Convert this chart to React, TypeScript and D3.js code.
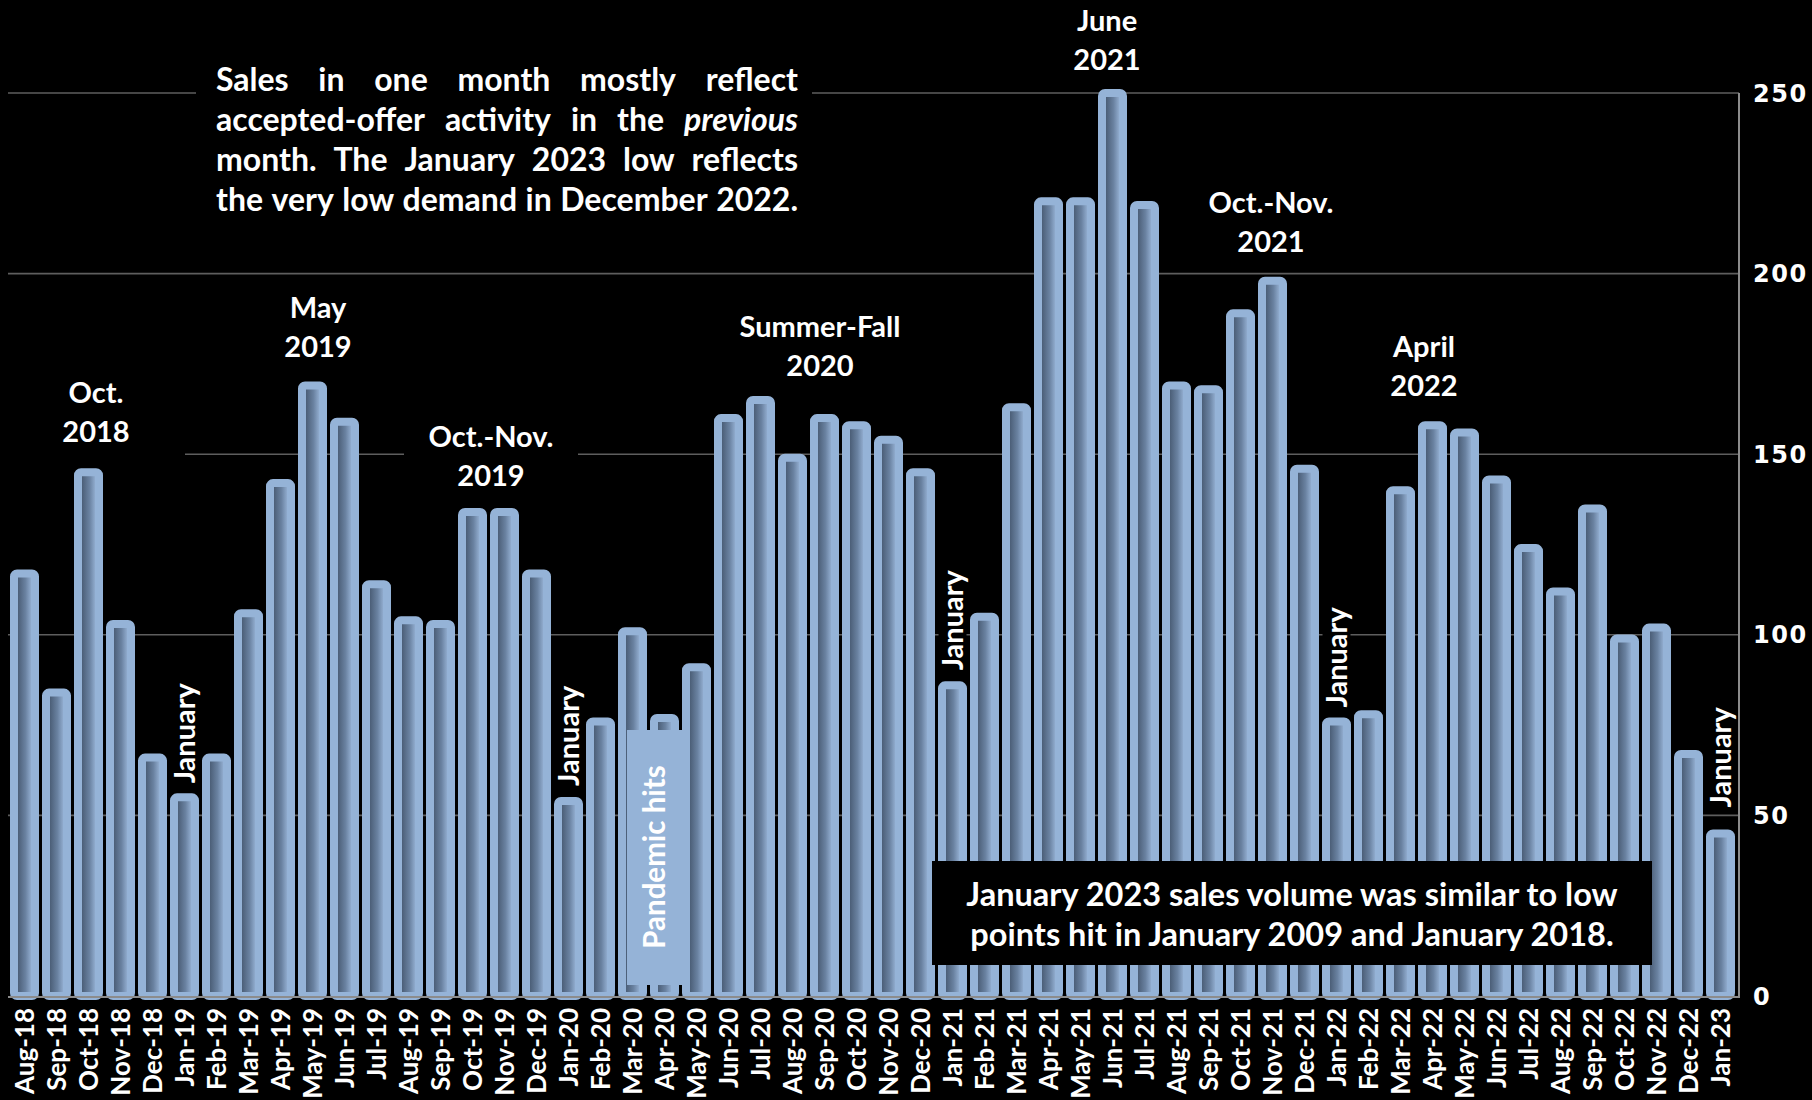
import React, { useEffect, useRef } from "react";
import * as d3 from "d3";

const months = [
  "Aug-18", "Sep-18", "Oct-18", "Nov-18", "Dec-18",
  "Jan-19", "Feb-19", "Mar-19", "Apr-19", "May-19", "Jun-19", "Jul-19", "Aug-19", "Sep-19", "Oct-19", "Nov-19", "Dec-19",
  "Jan-20", "Feb-20", "Mar-20", "Apr-20", "May-20", "Jun-20", "Jul-20", "Aug-20", "Sep-20", "Oct-20", "Nov-20", "Dec-20",
  "Jan-21", "Feb-21", "Mar-21", "Apr-21", "May-21", "Jun-21", "Jul-21", "Aug-21", "Sep-21", "Oct-21", "Nov-21", "Dec-21",
  "Jan-22", "Feb-22", "Mar-22", "Apr-22", "May-22", "Jun-22", "Jul-22", "Aug-22", "Sep-22", "Oct-22", "Nov-22", "Dec-22",
  "Jan-23",
];

const sales = [
  117, 84, 145, 103, 66,
  55, 66, 106, 142, 169, 159, 114, 104, 103, 134, 134, 117,
  54, 76, 101, 77, 91, 160, 165, 149, 160, 158, 154, 145,
  86, 105, 163, 220, 220, 250, 219, 169, 168, 189, 198, 146,
  76, 78, 140, 158, 156, 143, 124, 112, 135, 99, 102, 67,
  45,
];

const yTicks = [0, 50, 100, 150, 200, 250];

const noteLines = [
  ["Sales", "in", "one", "month", "mostly", "reflect"],
  ["accepted-offer", "activity", "in", "the", "*previous"],
  ["month.", "The", "January", "2023", "low", "reflects"],
  ["the", "very", "low", "demand", "in", "December", "2022."],
];

const periodLabels = [
  { lines: ["Oct.", "2018"], x: 96, y: 403 },
  { lines: ["May", "2019"], x: 318, y: 318 },
  { lines: ["Oct.-Nov.", "2019"], x: 491, y: 447 },
  { lines: ["Summer-Fall", "2020"], x: 820, y: 337 },
  { lines: ["June", "2021"], x: 1107, y: 31 },
  { lines: ["Oct.-Nov.", "2021"], x: 1271, y: 213 },
  { lines: ["April", "2022"], x: 1424, y: 357 },
];

const januaryLabels = [
  { month: "Jan-19", gap: 14 },
  { month: "Jan-20", gap: 15 },
  { month: "Jan-21", gap: 15 },
  { month: "Jan-22", gap: 14 },
  { month: "Jan-23", gap: 26 },
];

const bottomNote = [
  "January 2023 sales volume was similar to low",
  "points hit in January 2009 and January 2018.",
];

const W = 1812;
const H = 1100;
const FONT = "Lato, 'Open Sans', sans-serif";
const BAR_BLUE = "#95B3D7";

export default function App() {
  const noteRef = useRef<SVGGElement>(null);

  const x = d3
    .scaleBand<string>()
    .domain(months)
    .range([8.5, 1736.5])
    .paddingInner(11 / 32)
    .paddingOuter(5.5 / 32);
  const y = d3.scaleLinear().domain([0, 250]).range([996, 93]);
  const bw = x.bandwidth();
  const cx = (m: string) => (x(m) as number) + bw / 2;
  const valueOf = (m: string) => sales[months.indexOf(m)];

  useEffect(() => {
    const draw = () => {
      const g = d3.select(noteRef.current);
      g.selectAll("*").remove();
      const left = 216;
      const right = 798;
      noteLines.forEach((line, li) => {
        const yy = 91 + li * 40;
        const nodes = line.map((w) => {
          const italic = w.startsWith("*");
          return g
            .append("text")
            .attr("y", yy)
            .attr("fill", "#fff")
            .attr("font-family", FONT)
            .attr("font-weight", 700)
            .attr("font-size", 32)
            .attr("font-style", italic ? "italic" : "normal")
            .text(italic ? w.slice(1) : w);
        });
        const widths = nodes.map((n) => (n.node() as SVGTextElement).getComputedTextLength());
        const total = d3.sum(widths);
        const gap = (right - left - total) / (nodes.length - 1);
        let xx = left;
        nodes.forEach((n, i) => {
          n.attr("x", xx);
          xx += widths[i] + gap;
        });
      });
    };
    draw();
    if ((document as any).fonts && (document as any).fonts.ready) {
      (document as any).fonts.ready.then(draw);
    }
  }, []);

  return (
    <svg
      width={W}
      height={H}
      style={{ position: "absolute", left: 0, top: 0, background: "#000", display: "block" }}
    >
      <defs>
        <linearGradient id="barGrad" x1="0" x2="1" y1="0" y2="0">
          <stop offset="0" stopColor="#44566e" />
          <stop offset="0.2" stopColor="#4c5f78" />
          <stop offset="0.55" stopColor="#6a82a1" />
          <stop offset="0.8" stopColor="#8ea9cb" />
          <stop offset="1" stopColor="#95b3d7" />
        </linearGradient>
      </defs>
      <rect x={0} y={0} width={W} height={H} fill="#000" />

      {/* gridlines */}
      {yTicks.filter((t) => t > 0).map((t) => (
        <line key={t} x1={8} x2={1739} y1={y(t)} y2={y(t)} stroke="#5e5e5e" strokeWidth={1.6} />
      ))}

      {/* label backgrounds hiding gridlines */}
      <rect x={196} y={45} width={616} height={185} fill="#000" />
      <rect x={0} y={370} width={185} height={90} fill="#000" />
      <rect x={404} y={410} width={174} height={52} fill="#000" />

      {/* bars */}
      {months.map((m, i) => (
        <rect
          key={m}
          x={x(m)}
          y={y(sales[i])}
          width={bw}
          height={y(0) - y(sales[i])}
          rx={3}
          fill="url(#barGrad)"
          stroke={BAR_BLUE}
          strokeWidth={8}
          strokeLinejoin="round"
        />
      ))}

      {/* axes */}
      <line x1={1739} x2={1739} y1={y(250)} y2={y(0) + 1} stroke="#8c8c8c" strokeWidth={2} />
      <line x1={8} x2={1740} y1={y(0) + 1} y2={y(0) + 1} stroke="#8c8c8c" strokeWidth={2} />

      {/* y tick labels */}
      {yTicks.map((t) => (
        <text
          key={t}
          x={1753}
          y={y(t) + 8.5}
          fill="#fff"
          fontFamily="'DejaVu Sans', Verdana, sans-serif"
          fontWeight={700}
          fontSize={24}
          letterSpacing={1.5}
        >
          {t}
        </text>
      ))}

      {/* x tick labels */}
      {months.map((m) => (
        <text
          key={m}
          transform={`translate(${cx(m) + 9.5},1008) rotate(-90)`}
          textAnchor="end"
          fill="#fff"
          fontFamily={FONT}
          fontWeight={700}
          fontSize={26}
        >
          {m}
        </text>
      ))}

      {/* note text (justified) */}
      <g ref={noteRef} />

      {/* period labels */}
      {periodLabels.map((p, i) => (
        <text
          key={i}
          textAnchor="middle"
          fill="#fff"
          fontFamily={FONT}
          fontWeight={700}
          fontSize={29}
        >
          {p.lines.map((l, j) => (
            <tspan key={j} x={p.x} y={p.y + j * 39}>
              {l}
            </tspan>
          ))}
        </text>
      ))}

      {/* January labels */}
      {januaryLabels.map((j) => {
        const base = y(valueOf(j.month)) - j.gap;
        return (
          <g key={j.month}>
            <rect x={cx(j.month) - 14} y={base - 106} width={28} height={108} fill="#000" />
            <text
              transform={`translate(${cx(j.month) + 10},${base}) rotate(-90)`}
              fill="#fff"
              fontFamily={FONT}
              fontWeight={700}
              fontSize={29}
            >
              January
            </text>
          </g>
        );
      })}

      {/* Pandemic hits */}
      <rect x={627} y={730} width={55} height={255} fill={BAR_BLUE} />
      <text
        transform={`translate(665,857) rotate(-90)`}
        textAnchor="middle"
        fill="#fff"
        fontFamily={FONT}
        fontWeight={700}
        fontSize={29.5}
      >
        Pandemic hits
      </text>

      {/* bottom note */}
      <rect x={932} y={861} width={720} height={104} fill="#000" />
      {bottomNote.map((l, i) => (
        <text
          key={i}
          x={1292}
          y={906 + i * 40}
          textAnchor="middle"
          fill="#fff"
          fontFamily={FONT}
          fontWeight={700}
          fontSize={32.5}
        >
          {l}
        </text>
      ))}
    </svg>
  );
}
